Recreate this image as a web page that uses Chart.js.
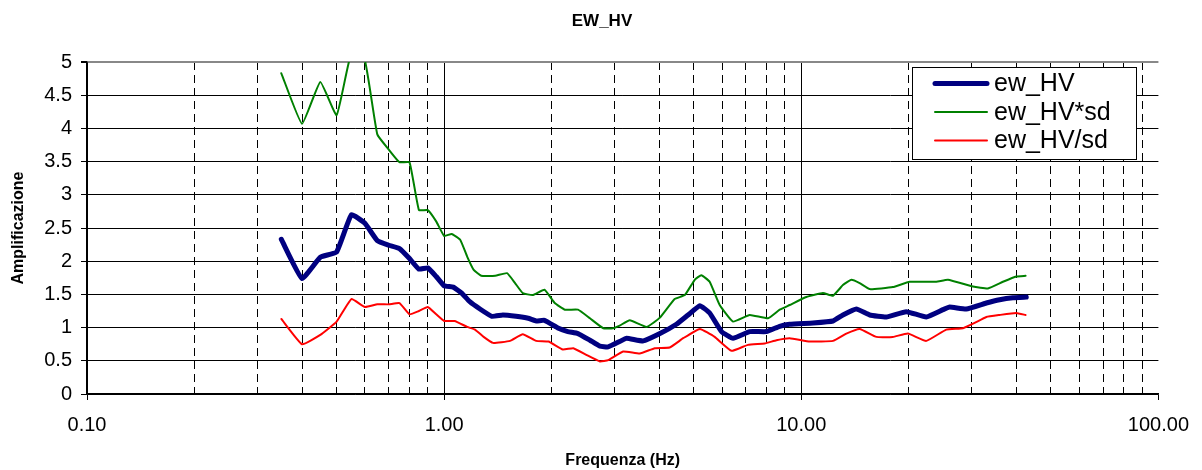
<!DOCTYPE html>
<html>
<head>
<meta charset="utf-8">
<title>EW_HV</title>
<script src="https://cdn.jsdelivr.net/npm/chart.js@4.4.1/dist/chart.umd.min.js"></script>
<style>
  html, body { margin: 0; padding: 0; background: #fff; }
  #wrap { width: 1202px; height: 470px; position: relative; }
</style>
</head>
<body>
<div id="wrap"><canvas id="c" width="1202" height="470"></canvas></div>
<script>
// H/V spectral ratio, EW component: mean curve and mean*sd / mean/sd bounds
const freqHV = [0.35,0.40,0.45,0.50,0.55,0.60,0.65,0.70,0.75,0.80,0.85,0.90,0.95,1.00,
  1.06,1.12,1.18,1.26,1.36,1.46,1.59,1.72,1.81,1.91,2.09,2.22,2.37,2.56,2.73,2.88,
  3.10,3.24,3.61,4.02,4.47,4.82,5.20,5.54,5.98,6.44,7.17,7.99,8.70,9.28,10.78,
  12.27,13.08,14.26,15.54,17.31,19.68,22.39,24.93,26.02,28.97,32.97,35.92,39.13,42.66];
const ewHV = [2.33,1.74,2.06,2.14,2.70,2.57,2.31,2.24,2.19,2.04,1.88,1.90,1.77,1.63,
  1.61,1.52,1.39,1.28,1.17,1.19,1.17,1.14,1.10,1.11,0.99,0.94,0.91,0.81,0.72,0.71,
  0.79,0.84,0.80,0.91,1.05,1.19,1.33,1.22,0.94,0.84,0.94,0.94,1.02,1.05,1.07,
  1.10,1.19,1.28,1.19,1.16,1.24,1.16,1.27,1.31,1.28,1.37,1.42,1.45,1.46];

const freqHVxSd = [0.35,0.40,0.45,0.50,0.55,0.60,0.65,0.70,0.75,0.80,0.85,0.90,0.95,1.00,
  1.05,1.11,1.16,1.21,1.27,1.39,1.50,1.58,1.66,1.77,1.91,2.04,2.18,2.37,2.56,2.79,
  2.97,3.10,3.31,3.69,4.02,4.42,4.72,5.03,5.25,5.54,5.91,6.44,7.17,8.07,8.70,9.28,
  10.33,11.50,12.27,13.08,13.81,14.57,15.54,18.05,20.11,23.88,25.74,30.24,33.31,36.70,39.99,42.47];
const ewHVxSd = [4.83,4.07,4.70,4.20,5.14,5.02,3.91,3.68,3.49,3.49,2.77,2.77,2.60,2.38,
  2.41,2.32,2.07,1.87,1.78,1.78,1.82,1.67,1.52,1.49,1.57,1.37,1.27,1.27,1.14,0.99,
  0.99,1.03,1.11,1.01,1.15,1.43,1.49,1.72,1.79,1.69,1.34,1.09,1.19,1.14,1.27,1.34,
  1.46,1.52,1.48,1.64,1.72,1.67,1.58,1.61,1.69,1.69,1.72,1.62,1.59,1.69,1.77,1.78];

const freqHVdSd = [0.35,0.40,0.45,0.50,0.55,0.60,0.65,0.70,0.75,0.80,0.85,0.90,0.95,1.00,
  1.07,1.16,1.22,1.29,1.37,1.53,1.66,1.81,1.96,2.15,2.30,2.50,2.73,2.88,3.17,3.53,
  3.89,4.28,4.67,5.20,5.72,6.38,7.09,7.90,8.52,9.28,10.56,12.27,13.37,14.57,16.23,
  18.05,19.89,22.39,25.47,28.36,30.57,32.97,35.92,39.99,42.47];
const ewHVdSd = [1.13,0.75,0.89,1.09,1.43,1.31,1.35,1.35,1.37,1.20,1.25,1.31,1.20,1.10,
  1.10,1.01,0.97,0.86,0.77,0.80,0.90,0.80,0.79,0.67,0.69,0.59,0.49,0.51,0.64,0.61,
  0.69,0.70,0.84,0.98,0.86,0.65,0.74,0.76,0.81,0.84,0.79,0.80,0.91,0.98,0.86,
  0.86,0.91,0.80,0.97,0.99,1.07,1.16,1.19,1.22,1.19];

// Axis ticks
const xTickValues = [0.1,0.2,0.3,0.4,0.5,0.6,0.7,0.8,0.9,1,2,3,4,5,6,7,8,9,10,
  20,30,40,50,60,70,80,90,100];
const xLabelledTicks = [0.1,1,10,100];
const yMin = 0, yMax = 5, yStep = 0.5;

const FONT = "'Liberation Sans', Arial, Helvetica, sans-serif";
Chart.defaults.font.family = FONT;
Chart.defaults.color = '#000';

const toPoints = (xs, ys) => xs.map((x, i) => ({ x: x, y: ys[i] }));
const isLabelled = v => xLabelledTicks.some(t => Math.abs(t - v) < 1e-9);

// Chart heading, centred on the page width
const heading = {
  id: 'heading',
  afterDraw(chart, args, opts) {
    const ctx = chart.ctx;
    ctx.save();
    ctx.font = 'bold ' + opts.fontSize + 'px ' + FONT;
    ctx.fillStyle = '#000';
    ctx.textAlign = 'center';
    ctx.textBaseline = 'middle';
    ctx.fillText(opts.text, opts.x, opts.y);
    ctx.restore();
  }
};

// Legend drawn as a framed box inside the plot area
const boxLegend = {
  id: 'boxLegend',
  afterDatasetsDraw(chart, args, opts) {
    const ctx = chart.ctx;
    ctx.save();
    ctx.fillStyle = '#fff';
    ctx.fillRect(opts.x, opts.y, opts.w, opts.h);
    ctx.strokeStyle = '#000';
    ctx.lineWidth = 1;
    ctx.strokeRect(opts.x + 0.5, opts.y + 0.5, opts.w, opts.h);
    ctx.font = opts.fontSize + 'px ' + FONT;
    ctx.textBaseline = 'middle';
    ctx.textAlign = 'left';
    chart.data.datasets.forEach((ds, i) => {
      const y = opts.firstRowY + i * opts.rowGap;
      ctx.beginPath();
      ctx.strokeStyle = ds.borderColor;
      ctx.lineWidth = ds.borderWidth;
      ctx.lineCap = 'round';
      ctx.moveTo(opts.lineX0, y);
      ctx.lineTo(opts.lineX1, y);
      ctx.stroke();
      ctx.fillStyle = '#000';
      ctx.fillText(ds.label, opts.textX, y + 1);
    });
    ctx.restore();
  }
};

new Chart(document.getElementById('c'), {
  type: 'line',
  data: {
    datasets: [
      { label: 'ew_HV', data: toPoints(freqHV, ewHV), borderColor: '#000080', borderWidth: 5 },
      { label: 'ew_HV*sd', data: toPoints(freqHVxSd, ewHVxSd), borderColor: '#008000', borderWidth: 2 },
      { label: 'ew_HV/sd', data: toPoints(freqHVdSd, ewHVdSd), borderColor: '#ff0000', borderWidth: 2 }
    ]
  },
  options: {
    responsive: false,
    animation: false,
    events: [],
    layout: { padding: { left: 0, right: 43, top: 62, bottom: 0 } },
    elements: {
      point: { radius: 0 },
      line: { tension: 0.12, borderJoinStyle: 'round', borderCapStyle: 'round', fill: false }
    },
    datasets: { line: { clip: 0 } },
    scales: {
      x: {
        type: 'logarithmic',
        min: 0.1,
        max: 100,
        afterBuildTicks: s => { s.ticks = xTickValues.map(v => ({ value: v })); },
        afterFit: s => { s.height = 76; },
        ticks: {
          autoSkip: false,
          maxRotation: 0,
          minRotation: 0,
          padding: 13,
          font: { size: 20 },
          color: '#000',
          callback: v => isLabelled(v) ? Number(v).toFixed(2) : ''
        },
        grid: {
          color: c => (c.tick && c.tick.value >= 100) ? 'rgba(0,0,0,0)' : '#000',
          lineWidth: 1,
          tickLength: 6,
          tickColor: c => (c.tick && isLabelled(c.tick.value)) ? '#000' : 'rgba(0,0,0,0)'
        },
        border: {
          color: '#000',
          width: 1.5,
          dash: c => (c.tick && !isLabelled(c.tick.value)) ? [8, 5] : []
        },
        title: {
          display: true,
          text: 'Frequenza (Hz)',
          color: '#000',
          font: { size: 16, weight: 'bold' },
          padding: { top: 0, bottom: 0 }
        }
      },
      y: {
        min: yMin,
        max: yMax,
        afterFit: s => { s.width = 87; },
        ticks: {
          stepSize: yStep,
          padding: 9,
          font: { size: 20 },
          color: '#000',
          callback: v => String(Math.round(v * 10) / 10)
        },
        grid: {
          color: c => (c.tick && c.tick.value === yMax) ? '#888' : '#000',
          lineWidth: c => (c.tick && c.tick.value === yMax) ? 2 : 1,
          tickLength: 6,
          tickColor: '#000'
        },
        border: { color: '#000', width: 1.5 },
        title: {
          display: true,
          text: 'Amplificazione',
          color: '#000',
          font: { size: 16, weight: 'bold' },
          padding: { top: 9, bottom: 0 }
        }
      }
    },
    plugins: {
      legend: { display: false },
      tooltip: { enabled: false },
      title: { display: false },
      heading: { text: 'EW_HV', x: 602, y: 21, fontSize: 17 },
      boxLegend: {
        x: 912, y: 67, w: 224, h: 92,
        lineX0: 935, lineX1: 987,
        textX: 994,
        firstRowY: 83.5, rowGap: 28.5,
        fontSize: 25
      }
    }
  },
  plugins: [heading, boxLegend]
});
</script>
</body>
</html>
